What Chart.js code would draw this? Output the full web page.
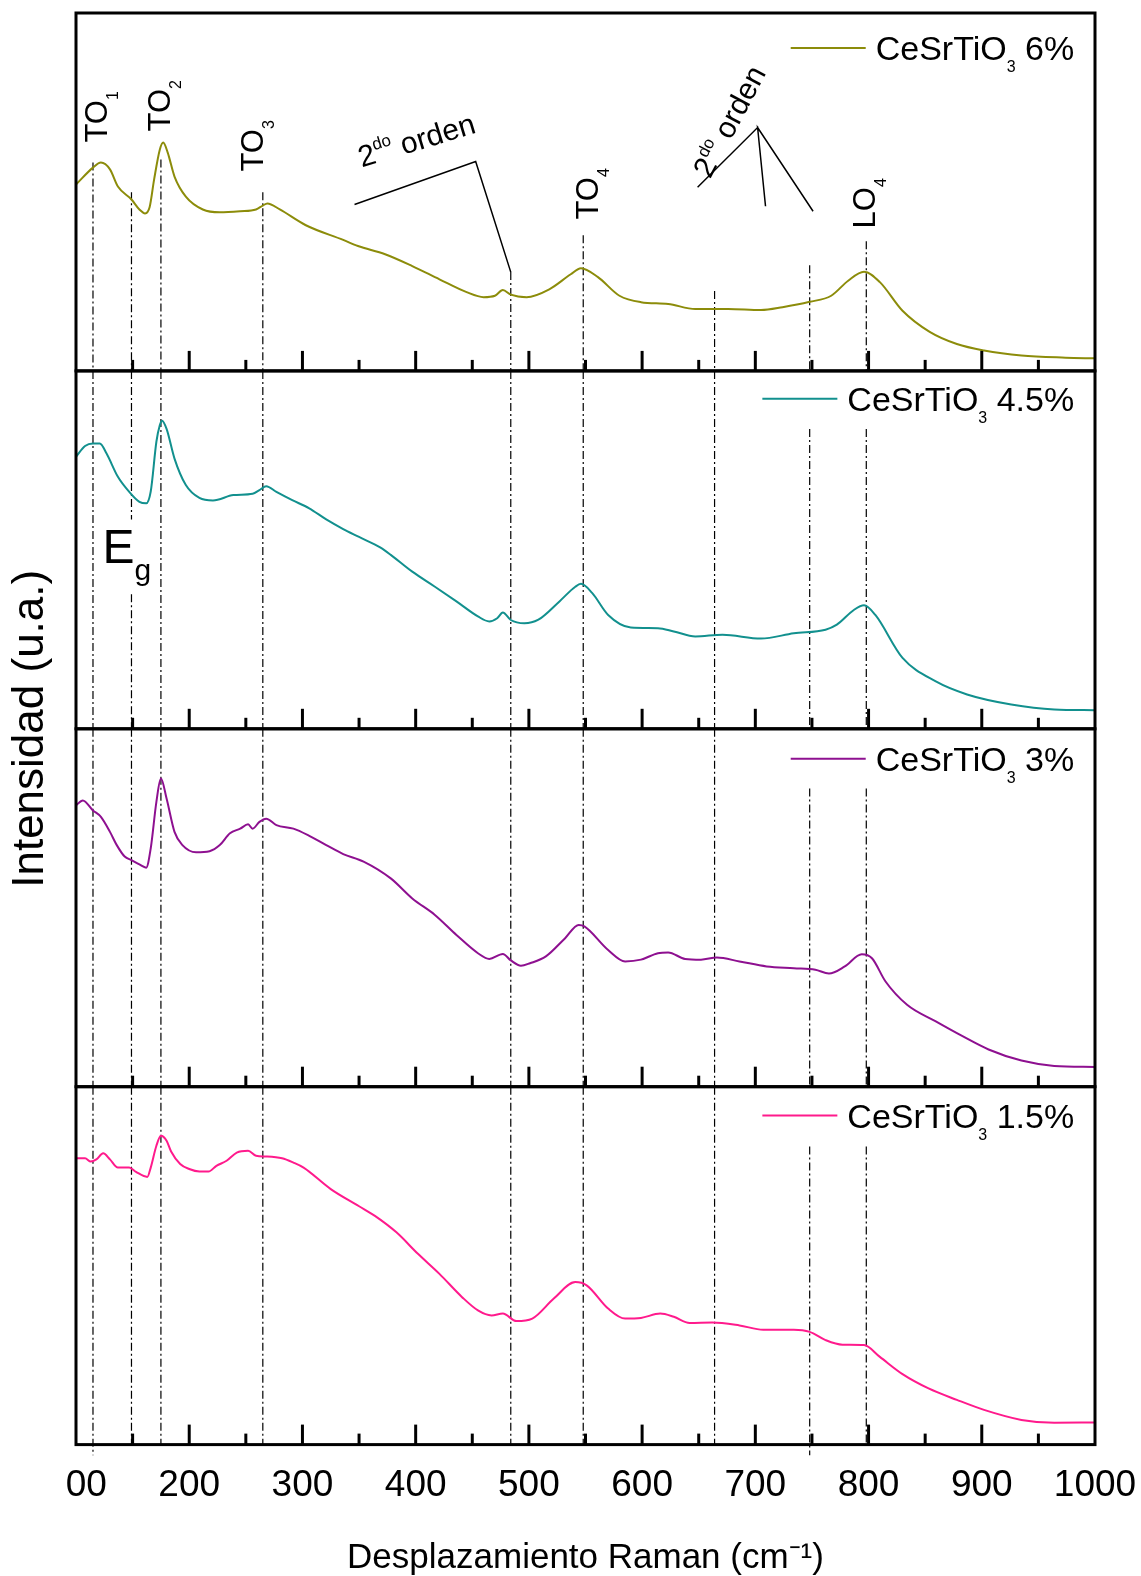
<!DOCTYPE html>
<html lang="es">
<head>
<meta charset="UTF-8">
<title>Espectros Raman CeSrTiO3</title>
<script src="https://cdn.jsdelivr.net/npm/chart.js"></script>
<style>
  html, body { margin: 0; padding: 0; background: #fff; overflow: hidden; }
  #raman { display: block; }
</style>
</head>
<body>
<canvas id="raman" width="1141" height="1576"></canvas>
<script>
// values: x = Raman shift (cm-1), y = intensity in % of each panel
const shift6 = [100,115,122,130,137,149,156,161,165,169,174,177,181,187,197,212,227,245,259,265,269,280,303,336,349,373,397,421,445,460,470,477,484,498,518,537,546,561,580,599,623,647,676,705,724,748,767,782,796,810,830,854,878,902,935,974,1000];
const int6 = [52.1,56.8,58.2,56.3,51.5,47.9,45.1,44.0,45.7,53.5,61.8,63.8,61.0,54.3,48.7,45.1,44.3,44.6,45.1,46.2,46.8,45.1,40.7,36.6,34.9,32.6,29.3,25.6,22.0,20.6,21.0,22.6,21.3,20.6,22.8,27.0,28.7,26.2,21.0,19.2,18.7,17.3,17.3,17.0,17.8,19.3,21.0,25.2,27.7,24.8,16.8,10.9,7.5,5.7,4.3,3.7,3.5];

const shift45 = [100,108,115,121,127,137,147,156,162,166,171,174,176,180,187,197,209,221,239,256,262,268,277,291,306,321,336,350,369,378,397,417,436,455,465,472,477,484,496,508,527,541,546,556,570,590,614,628,647,671,705,734,762,772,787,796,806,830,859,887,926,964,1000];
const int45 = [76.0,79.0,79.7,79.7,76.9,70.4,66.2,63.4,63.0,66.3,80.2,84.8,86.1,83.8,75.5,68.1,64.5,63.8,65.3,65.7,66.7,67.8,66.2,63.9,61.6,58.5,55.8,53.6,50.6,48.6,43.9,39.7,35.6,31.4,30.0,30.9,32.5,30.4,29.5,30.4,35.6,39.7,40.5,37.9,31.8,28.3,28.1,27.2,25.8,26.3,25.2,26.7,27.7,29.1,33.2,34.5,31.8,19.8,13.3,9.6,6.8,5.4,5.2];

const shift3 = [100,106,115,122,130,136,143,149,156,162,166,171,175,180,187,194,206,218,227,236,245,252,256,262,268,277,292,306,321,336,354,378,397,417,436,455,465,477,484,493,501,515,532,544,549,570,585,599,614,623,638,652,666,686,710,734,753,765,779,794,803,815,834,859,883,906,935,964,1000];
const int3 = [78.6,80.0,77.2,75.4,71.2,67.5,64.3,63.3,62.1,61.2,66.6,79.6,86.1,80.5,71.2,67.5,65.5,65.8,67.5,70.8,72.1,73.3,72.1,74.0,74.9,73.1,72.1,70.1,67.5,65.0,62.9,58.2,52.6,48.0,42.4,37.3,35.7,37.1,35.3,33.8,34.5,36.4,41.5,45.2,44.8,38.2,35.0,35.5,37.3,37.5,35.7,35.5,36.1,35.0,33.6,33.1,32.7,31.6,33.6,37.0,35.9,29.4,22.9,18.3,14.1,10.4,7.3,5.8,5.5];

const shift15 = [100,108,113,118,124,130,137,147,153,163,166,171,175,180,184,192,200,209,217,224,233,242,252,259,268,282,292,301,325,350,364,383,402,421,441,455,467,477,489,503,522,541,551,570,585,599,616,628,642,662,686,707,734,748,762,777,796,810,830,853,878,902,935,964,1000];
const int15 = [80.0,80.0,79.1,79.7,81.4,79.7,77.4,77.4,76.2,74.8,77.4,83.5,86.3,84.9,81.9,78.4,77.0,76.3,76.3,77.9,79.3,81.6,82.1,80.7,80.5,80.0,78.8,77.4,71.4,66.6,63.9,59.3,53.3,47.7,41.2,37.5,36.1,36.6,34.5,35.2,40.8,45.4,44.5,38.0,35.2,35.4,36.6,35.7,34.0,34.1,33.3,32.1,32.1,31.5,29.2,27.9,27.8,24.5,19.7,15.7,12.5,9.7,6.9,6.1,6.2];

const dopings = ['6%', '4.5%', '3%', '1.5%'];
const xTicks = [100,200,300,400,500,600,700,800,900,1000];

// dash-dot marker lines: [shift, from, to] in panel units
const refSegP1 = [[115,58.2,0],[149,49.9,0],[175,59.1,0],[265,49.9,0],[484,27.6,0],[548,37.9,0],[664,22.3,0],[748,29.5,0],[798,36.2,0]];
const refSegP2 = [[115,100,0],[149,100,58.5],[149,37.6,0],[175,100,0],[265,100,0],[484,100,0],[548,100,0],[664,100,0],[748,83.8,0],[798,83.8,0]];
const refSegP3 = [[115,100,0],[149,100,0],[175,100,0],[265,100,0],[484,100,0],[548,100,0],[664,100,0],[748,83.3,0],[798,83.3,0]];
const refSegP4 = [[115,100,-3],[149,100,0],[175,100,0],[265,100,0],[484,100,0],[548,100,0],[664,100,0],[748,83.3,-3],[798,83.3,0]];

// "2do orden" brackets (top panel)
const bracket1 = [[346,46.5],[453,58.5],[484,27.6]];
const bracket2 = [[649,51.3],[702,68.0],[709,46.0],[702,68.0],[751,44.6]];

const FONT = "'Liberation Sans', Arial, sans-serif";
const colors = ['#8c8c0a', '#12908e', '#8e1090', '#ff1a8c'];
const panels = ['p1', 'p2', 'p3', 'p4'];

function curve(xs, ys, panel, color) {
  return {
    data: xs.map((x, i) => ({x: x, y: ys[i]})),
    yAxisID: panel, borderColor: color, borderWidth: 2,
    pointRadius: 0, cubicInterpolationMode: 'monotone', order: 0
  };
}
function refLines(segs, panel) {
  const pts = [];
  segs.forEach(([x, a, b]) => pts.push({x: x, y: a}, {x: x, y: b}, {x: x, y: null}));
  return {
    data: pts, yAxisID: panel, borderColor: '#000', borderWidth: 1.2,
    borderDash: [8, 3, 2, 3], pointRadius: 0, spanGaps: false, clip: false, order: 1
  };
}
function polyline(pts, panel) {
  return {
    data: pts.map(p => ({x: p[0], y: p[1]})), yAxisID: panel, borderColor: '#000',
    borderWidth: 1.5, pointRadius: 0, order: 1
  };
}

const datasets = [
  curve(shift6, int6, 'p1', colors[0]),
  curve(shift45, int45, 'p2', colors[1]),
  curve(shift3, int3, 'p3', colors[2]),
  curve(shift15, int15, 'p4', colors[3]),
  refLines(refSegP1, 'p1'), refLines(refSegP2, 'p2'),
  refLines(refSegP3, 'p3'), refLines(refSegP4, 'p4'),
  polyline(bracket1, 'p1'), polyline(bracket2, 'p1')
];

// text annotations, placed in data units
const peakLabels = [
  {t: 'TO', s: '1', x: 127, y: 63.8},
  {t: 'TO', s: '2', x: 182.7, y: 66.9},
  {t: 'TO', s: '3', x: 264.9, y: 55.7},
  {t: 'TO', s: '4', x: 561, y: 42.3},
  {t: 'LO', s: '4', x: 805.6, y: 39.8}
];
const orderLabels = [{x: 352.4, y: 56.8, a: -17}, {x: 660, y: 53.5, a: -62}];
const legendBase = [86.9, 88.9, 88.3, 88.6];

function drawParts(ctx, parts, x, y, angle) {
  ctx.save();
  ctx.translate(x, y);
  ctx.rotate(angle);
  let cx = 0;
  parts.forEach(p => {
    ctx.font = p[1] + 'px ' + FONT;
    ctx.fillText(p[0], cx, p[2] || 0);
    cx += ctx.measureText(p[0]).width;
  });
  ctx.restore();
}
function partsWidth(ctx, parts) {
  let w = 0;
  parts.forEach(p => { ctx.font = p[1] + 'px ' + FONT; w += ctx.measureText(p[0]).width; });
  return w;
}

const decorations = {
  id: 'decorations',
  afterDraw(chart) {
    const ctx = chart.ctx;
    const xs = chart.scales.x;
    const area = chart.chartArea;
    ctx.save();
    ctx.fillStyle = '#000';
    ctx.strokeStyle = '#000';
    ctx.textAlign = 'left';
    ctx.textBaseline = 'alphabetic';

    // panel frames and inward ticks
    ctx.lineWidth = 3;
    panels.forEach(id => {
      const s = chart.scales[id];
      ctx.strokeRect(area.left, s.top, area.right - area.left, s.bottom - s.top);
      for (let v = 150; v < 1000; v += 50) {
        const px = xs.getPixelForValue(v);
        const len = v % 100 === 0 ? 20 : 11;
        ctx.beginPath();
        ctx.moveTo(px, s.bottom);
        ctx.lineTo(px, s.bottom - len);
        ctx.stroke();
      }
    });

    // legends
    const right = xs.getPixelForValue(981.6);
    panels.forEach((id, i) => {
      const s = chart.scales[id];
      const parts = [['CeSrTiO', 34], ['3', 16, 12], [' ' + dopings[i], 34]];
      const w = partsWidth(ctx, parts);
      const base = s.getPixelForValue(legendBase[i]);
      drawParts(ctx, parts, right - w, base, 0);
      ctx.strokeStyle = colors[i];
      ctx.lineWidth = 2;
      ctx.beginPath();
      ctx.moveTo(right - w - 85, base - 12);
      ctx.lineTo(right - w - 10, base - 12);
      ctx.stroke();
    });

    // peak labels (vertical)
    const p1 = chart.scales.p1;
    peakLabels.forEach(l => {
      drawParts(ctx, [[l.t, 31], [l.s, 16, 11]], xs.getPixelForValue(l.x), p1.getPixelForValue(l.y), -Math.PI / 2);
    });
    orderLabels.forEach(l => {
      drawParts(ctx, [['2', 30], ['do', 17, -13], [' orden', 30]], xs.getPixelForValue(l.x), p1.getPixelForValue(l.y), l.a * Math.PI / 180);
    });

    // E_g in the second panel
    const p2 = chart.scales.p2;
    const ex = xs.getPixelForValue(123.5), ey = p2.getPixelForValue(46.2);
    drawParts(ctx, [['E', 48], ['g', 30, 17]], ex, ey, 0);

    // y title
    ctx.font = '44px ' + FONT;
    ctx.textAlign = 'center';
    ctx.textBaseline = 'middle';
    ctx.translate(31, (area.top + area.bottom) / 2);
    ctx.rotate(-Math.PI / 2);
    ctx.fillText('Intensidad (u.a.)', 0, 0);
    ctx.restore();
  }
};

function yPanel(w) {
  return {
    type: 'linear', min: 0, max: 100, position: 'left',
    stack: 'panels', stackWeight: 1, weight: w,
    grid: {display: false, drawTicks: false},
    border: {display: false},
    ticks: {display: false}
  };
}

new Chart(document.getElementById('raman'), {
  type: 'line',
  data: {datasets: datasets},
  options: {
    responsive: false,
    animation: false,
    events: [],
    layout: {padding: {left: 76, top: 13, right: 46, bottom: 0}},
    plugins: {legend: {display: false}, tooltip: {enabled: false}},
    scales: {
      x: {
        type: 'linear', min: 100, max: 1000,
        grid: {display: false, drawTicks: false},
        border: {display: false},
        afterBuildTicks: axis => { axis.ticks = xTicks.map(v => ({value: v})); },
        afterFit: axis => { axis.paddingLeft = 0; axis.paddingRight = 0; },
        ticks: {
          padding: 19, color: '#000', maxRotation: 0, autoSkip: false,
          font: {family: FONT, size: 37},
          callback: v => v === 100 ? '  00' : String(v)
        },
        title: {
          display: true, text: 'Desplazamiento Raman (cm\u207B\u00B9)', color: '#000',
          font: {family: FONT, size: 35, lineHeight: 1},
          padding: {top: 14, bottom: 0}
        }
      },
      p1: yPanel(4), p2: yPanel(3), p3: yPanel(2), p4: yPanel(1)
    }
  },
  plugins: [decorations]
});
</script>
</body>
</html>
